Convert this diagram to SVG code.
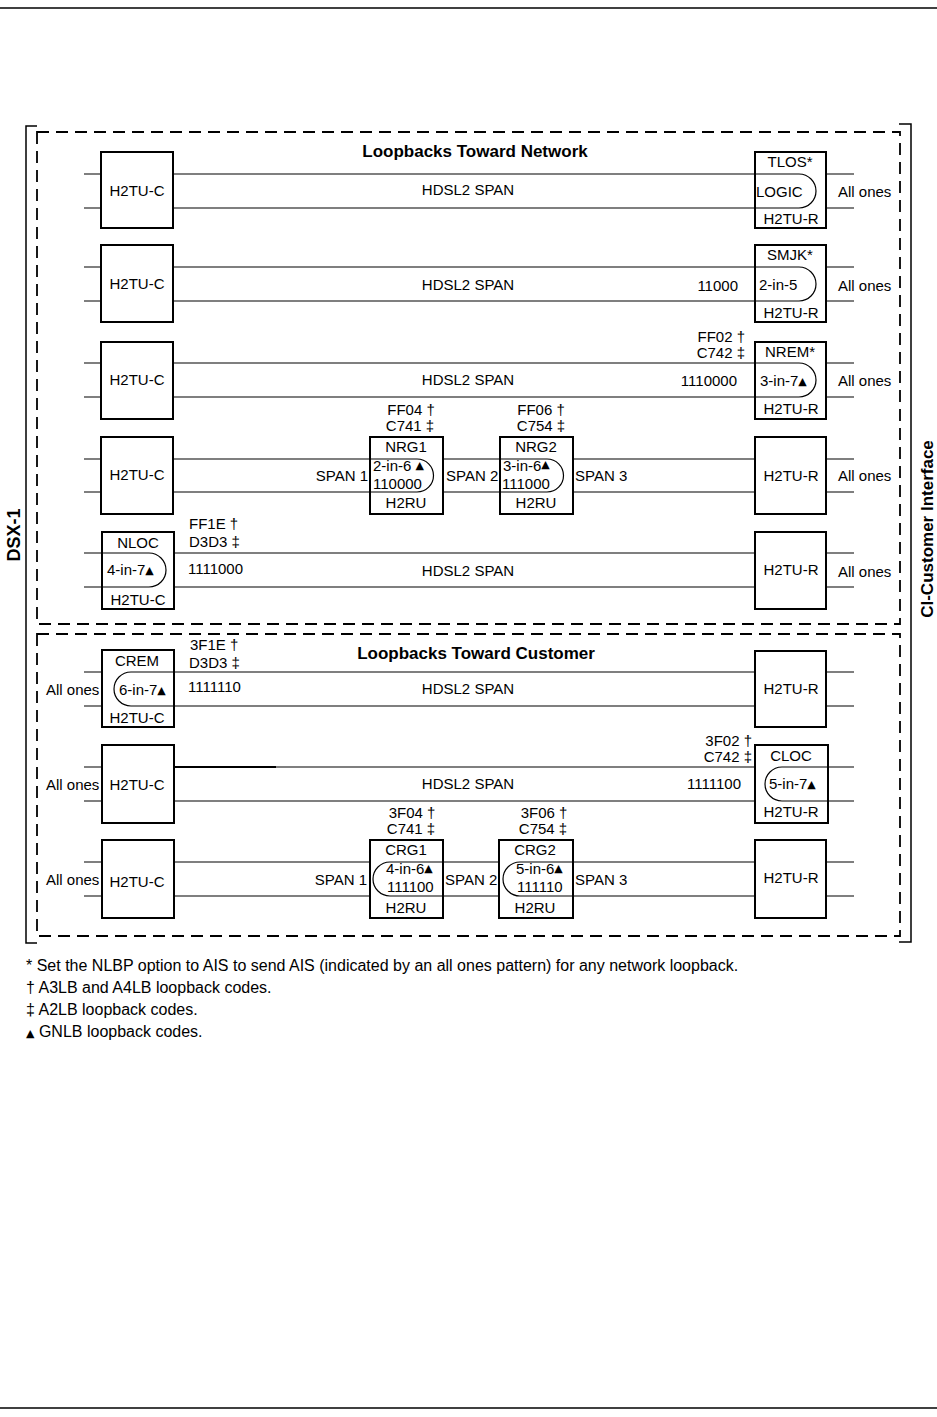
<svg xmlns="http://www.w3.org/2000/svg" width="937" height="1417" viewBox="0 0 937 1417">
<style>
text{font-family:"Liberation Sans","DejaVu Sans",Arial,sans-serif;font-size:15px;fill:#000}
.m{text-anchor:middle}
.e{text-anchor:end}
.b{font-weight:bold;font-size:17px}
.r{font-weight:bold;font-size:18px}
.tri{font-size:11px;font-family:"DejaVu Sans","Liberation Sans",sans-serif}
.box{fill:none;stroke:#000;stroke-width:2}
.ln{fill:none;stroke:#000;stroke-width:1.2}
.dash{fill:none;stroke:#000;stroke-width:1.8;stroke-dasharray:12 7}
.rule{fill:none;stroke:#000;stroke-width:1.5}
.fn{font-size:16px}
</style>
<rect width="937" height="1417" fill="#fff"/>
<g id="frame">
<line class="rule" x1="0" y1="8" x2="937" y2="8"/>
<line class="rule" x1="0" y1="1408" x2="937" y2="1408"/>
<path class="rule" d="M37,126 H26 V943 H37"/>
<path class="rule" d="M899,124 H911 V942 H899"/>
<rect class="dash" x="37" y="132" width="863" height="492"/>
<rect class="dash" x="37" y="634" width="863" height="302"/>
<text class="r" transform="translate(20,535) rotate(-90)" text-anchor="middle">DSX-1</text>
<text class="b" transform="translate(933,529) rotate(-90)" text-anchor="middle">CI-Customer Interface</text>
<text class="b m" x="475" y="157">Loopbacks Toward Network</text>
<text class="b m" x="476" y="659">Loopbacks Toward Customer</text>
</g>
<g id="connectors">
<path class="ln" d="M84,174 H101 M84,208 H101 M826,174 H854 M826,208 H854"/>
<path class="ln" d="M173,174 H799 A17,17 0 0 1 799,208 H173"/>
<path class="ln" d="M84,267 H101 M84,301 H101 M826,267 H854 M826,301 H854"/>
<path class="ln" d="M173,267 H799 A17,17 0 0 1 799,301 H173"/>
<path class="ln" d="M84,363 H101 M84,397 H101 M826,363 H854 M826,397 H854"/>
<path class="ln" d="M173,363 H799 A17,17 0 0 1 799,397 H173"/>
<path class="ln" d="M84,459 H101 M84,492 H101 M826,459 H854 M826,492 H854"/>
<path class="ln" d="M173,459 H417 A16.5,16.5 0 0 1 417,492 H173"/>
<path class="ln" d="M443,459 H547 A16.5,16.5 0 0 1 547,492 H443"/>
<path class="ln" d="M573,459 H755 M573,492 H755"/>
<path class="ln" d="M84,553 H149 A17,17 0 0 1 149,587 H84"/>
<path class="ln" d="M174,553 H755 M174,587 H755 M826,553 H854 M826,587 H854"/>
<path class="ln" d="M84,672 H102 M84,706 H102 M826,672 H854 M826,706 H854"/>
<path class="ln" d="M755,672 H131 A17,17 0 0 0 131,706 H755"/>
<path class="ln" d="M84,767 H102 M84,801 H102"/>
<path class="ln" d="M174,767 H755 M174,801 H755"/>
<line x1="174" y1="767" x2="276" y2="767" stroke="#000" stroke-width="2"/>
<path class="ln" d="M854,767 H782 A17,17 0 0 0 782,801 H854"/>
<path class="ln" d="M84,862 H102 M84,896 H102 M826,862 H854 M826,896 H854"/>
<path class="ln" d="M174,862 H370 M174,896 H370"/>
<path class="ln" d="M499,862 H390 A17,17 0 0 0 390,896 H499"/>
<path class="ln" d="M755,862 H520 A17,17 0 0 0 520,896 H755"/>
</g>
<g id="row1-labels">
<text class="m" x="468" y="195">HDSL2 SPAN</text>
<text x="838" y="197">All ones</text>
</g>
<g id="h2tuc-1"><rect class="box" x="101" y="152" width="72" height="76"/><text class="m" x="137" y="196">H2TU-C</text></g>
<g id="tlos"><rect class="box" x="755" y="152" width="71" height="76"/>
<text class="m" x="790" y="167">TLOS*</text><text x="756" y="197">LOGIC</text><text class="m" x="791" y="224">H2TU-R</text></g>
<g id="row2-labels">
<text class="m" x="468" y="290">HDSL2 SPAN</text><text class="e" x="738" y="291">11000</text><text x="838" y="291">All ones</text>
</g>
<g id="h2tuc-2"><rect class="box" x="101" y="245" width="72" height="77"/><text class="m" x="137" y="289">H2TU-C</text></g>
<g id="smjk"><rect class="box" x="755" y="245" width="71" height="77"/>
<text class="m" x="790" y="260">SMJK*</text><text x="759" y="290">2-in-5</text><text class="m" x="791" y="318">H2TU-R</text></g>
<g id="row3-labels">
<text class="m" x="468" y="385">HDSL2 SPAN</text><text class="e" x="737" y="386">1110000</text><text x="838" y="386">All ones</text>
<text class="e" x="745" y="342">FF02 †</text><text class="e" x="745" y="358">C742 ‡</text>
</g>
<g id="h2tuc-3"><rect class="box" x="101" y="342" width="72" height="77"/><text class="m" x="137" y="385">H2TU-C</text></g>
<g id="nrem"><rect class="box" x="755" y="342" width="71" height="77"/>
<text class="m" x="790" y="357">NREM*</text><text x="760" y="386">3-in-7<tspan class="tri" dy="-1">▲</tspan></text><text class="m" x="791" y="414">H2TU-R</text></g>
<g id="row4-labels">
<text class="e" x="368" y="481">SPAN 1</text><text x="446" y="481">SPAN 2</text><text x="575" y="481">SPAN 3</text><text x="838" y="481">All ones</text>
<text class="m" x="411" y="415">FF04 †</text><text class="m" x="410" y="431">C741 ‡</text>
<text class="m" x="541" y="415">FF06 †</text><text class="m" x="541" y="431">C754 ‡</text>
</g>
<g id="h2tuc-4"><rect class="box" x="101" y="437" width="72" height="77"/><text class="m" x="137" y="480">H2TU-C</text></g>
<g id="nrg1"><rect class="box" x="370" y="437" width="73" height="77"/>
<text class="m" x="406" y="452">NRG1</text><text x="373" y="471">2-in-6 <tspan class="tri" dy="-2">▲</tspan></text><text x="373" y="489">110000</text><text class="m" x="406" y="508">H2RU</text></g>
<g id="nrg2"><rect class="box" x="500" y="437" width="73" height="77"/>
<text class="m" x="536" y="452">NRG2</text><text x="503" y="471">3-in-6<tspan class="tri" dy="-3">▲</tspan></text><text x="502" y="489">111000</text><text class="m" x="536" y="508">H2RU</text></g>
<g id="h2tur-4"><rect class="box" x="755" y="437" width="71" height="77"/><text class="m" x="791" y="481">H2TU-R</text></g>
<g id="row5-labels">
<text class="m" x="468" y="576">HDSL2 SPAN</text><text x="838" y="577">All ones</text>
<text x="189" y="529">FF1E †</text><text x="189" y="547">D3D3 ‡</text><text x="188" y="574">1111000</text>
</g>
<g id="nloc"><rect class="box" x="102" y="532" width="72" height="77"/>
<text class="m" x="138" y="548">NLOC</text><text x="107" y="575">4-in-7<tspan class="tri" dy="-1">▲</tspan></text><text class="m" x="138" y="605">H2TU-C</text></g>
<g id="h2tur-5"><rect class="box" x="755" y="532" width="71" height="77"/><text class="m" x="791" y="575">H2TU-R</text></g>
<g id="row6-labels">
<text class="m" x="468" y="694">HDSL2 SPAN</text><text x="46" y="695">All ones</text>
<text x="190" y="650">3F1E †</text><text x="189" y="668">D3D3 ‡</text><text x="188" y="692">1111110</text>
</g>
<g id="crem"><rect class="box" x="102" y="650" width="72" height="77"/>
<text class="m" x="137" y="666">CREM</text><text x="119" y="695">6-in-7<tspan class="tri" dy="-1">▲</tspan></text><text class="m" x="137" y="723">H2TU-C</text></g>
<g id="h2tur-6"><rect class="box" x="755" y="651" width="71" height="76"/><text class="m" x="791" y="694">H2TU-R</text></g>
<g id="row7-labels">
<text class="m" x="468" y="789">HDSL2 SPAN</text><text x="46" y="790">All ones</text>
<text class="e" x="741" y="789">1111100</text>
<text class="e" x="752" y="746">3F02 †</text><text class="e" x="752" y="762">C742 ‡</text>
</g>
<g id="h2tuc-7"><rect class="box" x="102" y="745" width="72" height="78"/><text class="m" x="137" y="790">H2TU-C</text></g>
<g id="cloc"><rect class="box" x="755" y="745" width="73" height="78"/>
<text class="m" x="791" y="761">CLOC</text><text x="769" y="789">5-in-7<tspan class="tri" dy="-1">▲</tspan></text><text class="m" x="791" y="817">H2TU-R</text></g>
<g id="row8-labels">
<text class="e" x="367" y="885">SPAN 1</text><text x="445" y="885">SPAN 2</text><text x="575" y="885">SPAN 3</text><text x="46" y="885">All ones</text>
<text class="m" x="412" y="818">3F04 †</text><text class="m" x="411" y="834">C741 ‡</text>
<text class="m" x="544" y="818">3F06 †</text><text class="m" x="543" y="834">C754 ‡</text>
</g>
<g id="h2tuc-8"><rect class="box" x="102" y="840" width="72" height="78"/><text class="m" x="137" y="887">H2TU-C</text></g>
<g id="crg1"><rect class="box" x="370" y="840" width="73" height="78"/>
<text class="m" x="406" y="855">CRG1</text><text x="386" y="874">4-in-6<tspan class="tri" dy="-2">▲</tspan></text><text x="387" y="892">111100</text><text class="m" x="406" y="913">H2RU</text></g>
<g id="crg2"><rect class="box" x="499" y="840" width="74" height="78"/>
<text class="m" x="535" y="855">CRG2</text><text x="516" y="874">5-in-6<tspan class="tri" dy="-2">▲</tspan></text><text x="517" y="892">111110</text><text class="m" x="535" y="913">H2RU</text></g>
<g id="h2tur-8"><rect class="box" x="755" y="840" width="71" height="78"/><text class="m" x="791" y="883">H2TU-R</text></g>
<g id="footnotes">
<text class="fn" x="26" y="971">* Set the NLBP option to AIS to send AIS (indicated by an all ones pattern) for any network loopback.</text>
<text class="fn" x="26" y="993">† A3LB and A4LB loopback codes.</text>
<text class="fn" x="26" y="1015">‡ A2LB loopback codes.</text>
<text class="fn" x="26" y="1037"><tspan class="tri">▲</tspan> GNLB loopback codes.</text>
</g>
</svg>
